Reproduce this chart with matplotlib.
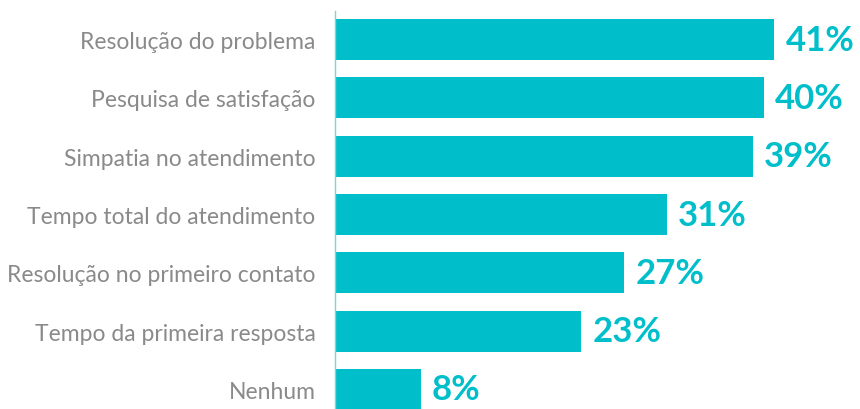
import matplotlib
matplotlib.use("Agg")
import matplotlib.pyplot as plt

categories = ["Resolução do problema", "Pesquisa de satisfação", "Simpatia no atendimento",
              "Tempo total do atendimento", "Resolução no primeiro contato",
              "Tempo da primeira resposta", "Nenhum"]
values = [41, 40, 39, 31, 27, 23, 8]
value_labels = ["41%", "40%", "39%", "31%", "27%", "23%", "8%"]

teal = "#00BFCB"
gray = "#8a8a8a"

plt.rcParams['font.family'] = ['Lato', 'DejaVu Sans']

fig = plt.figure(figsize=(8.6, 4.1), dpi=100)
ax = fig.add_axes([335 / 860, 0.0, 1 - 335 / 860, (410 - 12) / 410])

y = list(range(len(categories)))
ax.barh(y, values, height=0.70, color=teal)

# percentage labels just right of each bar
for i, (v, lab) in enumerate(zip(values, value_labels)):
    ax.annotate(lab, (v, i), xytext=(8, 0), textcoords="offset points",
                va="center", ha="left", color=teal, fontsize=25, fontweight="bold",
                clip_on=False)

ax.set_xlim(0, 49)
ax.set_ylim(6.335, -0.49)
ax.set_yticks(y)
ax.set_yticklabels(categories, color=gray, fontsize=16.5)
ax.tick_params(axis="y", length=0, pad=14)
ax.set_xticks([])

for s in ["top", "right", "bottom"]:
    ax.spines[s].set_visible(False)
ax.spines["left"].set_color("#7fd3da")
ax.spines["left"].set_linewidth(1.0)

fig.savefig("out.png", dpi=100)
